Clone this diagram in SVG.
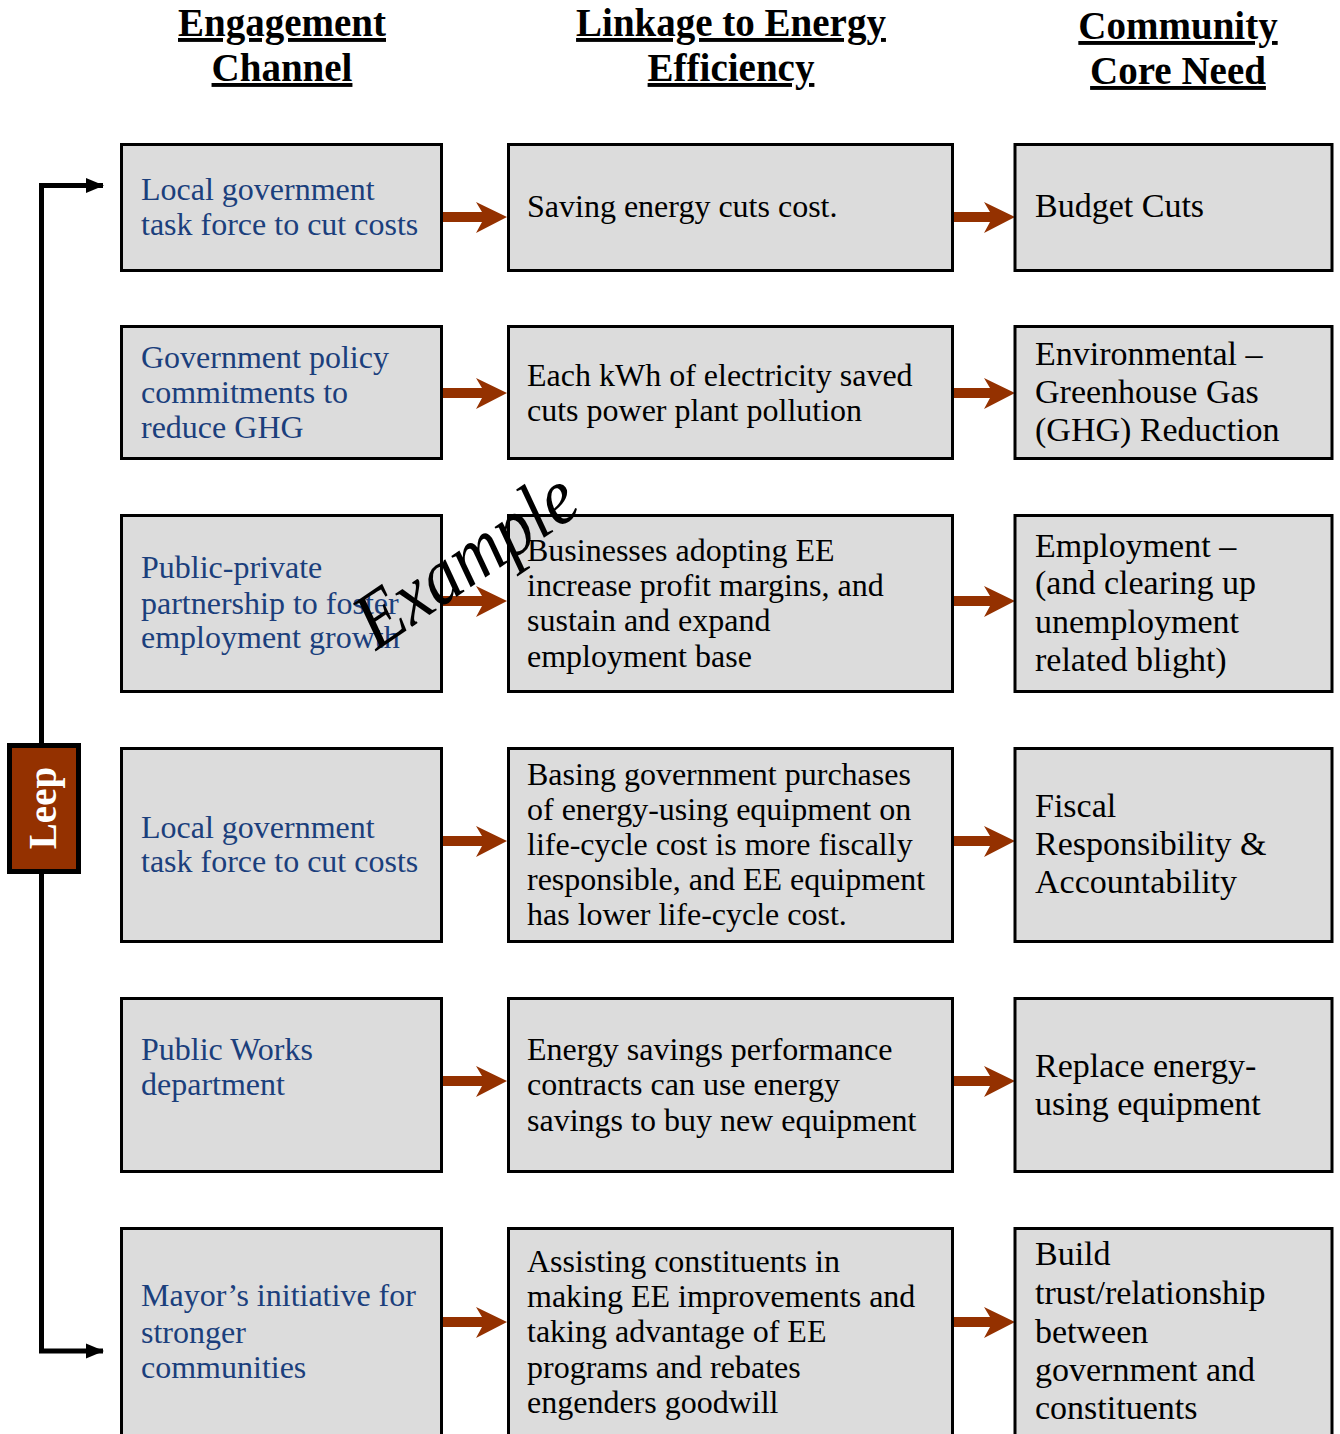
<svg xmlns="http://www.w3.org/2000/svg" width="1340" height="1434" viewBox="0 0 1340 1434">
<style>
.box{fill:#dcdcdc;stroke:#000;stroke-width:3}
.hd{font-family:"Liberation Serif",serif;font-weight:bold;font-size:39px;fill:#000;text-anchor:middle;text-decoration:underline}
.t1{font-family:"Liberation Serif",serif;font-size:32px;fill:#1b3f7c}
.t2{font-family:"Liberation Serif",serif;font-size:32px;fill:#000}
.t3{font-family:"Liberation Serif",serif;font-size:34px;fill:#000}
.arr{fill:#943100}
</style>
<defs>
<path id="a1" d="M0,-5 L40,-5 L34,-15 L65,0 L34,16 L40,5 L0,5 Z"/>
<path id="a2" d="M0,-5 L36,-5 L30,-15 L61,0 L30,16 L36,5 L0,5 Z"/>
</defs>
<rect width="1340" height="1434" fill="#fff"/>
<g id="headers">
<text class="hd" x="282" y="36">Engagement</text>
<text class="hd" x="282" y="81">Channel</text>
<text class="hd" x="731" y="36">Linkage to Energy</text>
<text class="hd" x="731" y="81">Efficiency</text>
<text class="hd" x="1178" y="39">Community</text>
<text class="hd" x="1178" y="84">Core Need</text>
</g>
<g id="connectors">
<path d="M103,185.5 L41.5,185.5 L41.5,1351 L103,1351" fill="none" stroke="#000" stroke-width="5" stroke-linejoin="miter"/>
<path d="M86,178 L104,185.5 L86,193 Z" fill="#000"/>
<path d="M86,1343.5 L104,1351 L86,1358.5 Z" fill="#000"/>
<use href="#a1" class="arr" x="442" y="217"/>
<use href="#a2" class="arr" x="954" y="217"/>
<use href="#a1" class="arr" x="442" y="393"/>
<use href="#a2" class="arr" x="954" y="393"/>
<use href="#a1" class="arr" x="442" y="601"/>
<use href="#a2" class="arr" x="954" y="601"/>
<use href="#a1" class="arr" x="442" y="841"/>
<use href="#a2" class="arr" x="954" y="841"/>
<use href="#a1" class="arr" x="442" y="1081"/>
<use href="#a2" class="arr" x="954" y="1081"/>
<use href="#a1" class="arr" x="442" y="1322"/>
<use href="#a2" class="arr" x="954" y="1322"/>
</g>
<g id="leep">
<rect x="9.5" y="745.5" width="69" height="126" fill="#943100" stroke="#000" stroke-width="5"/>
<text transform="translate(56,808) rotate(-90)" x="0" y="0" text-anchor="middle" font-family="Liberation Serif,serif" font-weight="bold" font-size="39" fill="#fff">Leep</text>
</g>
<g id="r1c1"><rect class="box" x="121.5" y="144.5" width="320" height="126"/>
<text class="t1" x="141" y="200">Local government</text>
<text class="t1" x="141" y="235">task force to cut costs</text></g>
<g id="r1c2"><rect class="box" x="508.5" y="144.5" width="444" height="126"/>
<text class="t2" x="527" y="217">Saving energy cuts cost.</text></g>
<g id="r1c3"><rect class="box" x="1015" y="144.5" width="317" height="126"/>
<text class="t3" x="1035" y="217">Budget Cuts</text></g>

<g id="r2c1"><rect class="box" x="121.5" y="326.5" width="320" height="132"/>
<text class="t1" x="141" y="368">Government policy</text>
<text class="t1" x="141" y="403">commitments to</text>
<text class="t1" x="141" y="438">reduce GHG</text></g>
<g id="r2c2"><rect class="box" x="508.5" y="326.5" width="444" height="132"/>
<text class="t2" x="527" y="386">Each kWh of electricity saved</text>
<text class="t2" x="527" y="421">cuts power plant pollution</text></g>
<g id="r2c3"><rect class="box" x="1015" y="326.5" width="317" height="132"/>
<text class="t3" x="1035" y="365">Environmental –</text>
<text class="t3" x="1035" y="403">Greenhouse Gas</text>
<text class="t3" x="1035" y="441">(GHG) Reduction</text></g>

<g id="r3c1"><rect class="box" x="121.5" y="515.5" width="320" height="176"/>
<text class="t1" x="141" y="578">Public-private</text>
<text class="t1" x="141" y="614">partnership to foster</text>
<text class="t1" x="141" y="648">employment growth</text></g>
<g id="r3c2"><rect class="box" x="508.5" y="515.5" width="444" height="176"/>
<text class="t2" x="527" y="561">Businesses adopting EE</text>
<text class="t2" x="527" y="596">increase profit margins, and</text>
<text class="t2" x="527" y="631">sustain and expand</text>
<text class="t2" x="527" y="667">employment base</text></g>
<g id="r3c3"><rect class="box" x="1015" y="515.5" width="317" height="176"/>
<text class="t3" x="1035" y="557">Employment –</text>
<text class="t3" x="1035" y="594">(and clearing up</text>
<text class="t3" x="1035" y="633">unemployment</text>
<text class="t3" x="1035" y="671">related blight)</text></g>

<g id="r4c1"><rect class="box" x="121.5" y="748.5" width="320" height="193"/>
<text class="t1" x="141" y="838">Local government</text>
<text class="t1" x="141" y="872">task force to cut costs</text></g>
<g id="r4c2"><rect class="box" x="508.5" y="748.5" width="444" height="193"/>
<text class="t2" x="527" y="785">Basing government purchases</text>
<text class="t2" x="527" y="820">of energy-using equipment on</text>
<text class="t2" x="527" y="855">life-cycle cost is more fiscally</text>
<text class="t2" x="527" y="890">responsible, and EE equipment</text>
<text class="t2" x="527" y="925">has lower life-cycle cost.</text></g>
<g id="r4c3"><rect class="box" x="1015" y="748.5" width="317" height="193"/>
<text class="t3" x="1035" y="817">Fiscal</text>
<text class="t3" x="1035" y="855">Responsibility &amp;</text>
<text class="t3" x="1035" y="893">Accountability</text></g>

<g id="r5c1"><rect class="box" x="121.5" y="998.5" width="320" height="173"/>
<text class="t1" x="141" y="1060">Public Works</text>
<text class="t1" x="141" y="1095">department</text></g>
<g id="r5c2"><rect class="box" x="508.5" y="998.5" width="444" height="173"/>
<text class="t2" x="527" y="1060">Energy savings performance</text>
<text class="t2" x="527" y="1095">contracts can use energy</text>
<text class="t2" x="527" y="1131">savings to buy new equipment</text></g>
<g id="r5c3"><rect class="box" x="1015" y="998.5" width="317" height="173"/>
<text class="t3" x="1035" y="1077">Replace energy-</text>
<text class="t3" x="1035" y="1115">using equipment</text></g>

<g id="r6c1"><rect class="box" x="121.5" y="1228.5" width="320" height="220"/>
<text class="t1" x="141" y="1306">Mayor’s initiative for</text>
<text class="t1" x="141" y="1343">stronger</text>
<text class="t1" x="141" y="1378">communities</text></g>
<g id="r6c2"><rect class="box" x="508.5" y="1228.5" width="444" height="220"/>
<text class="t2" x="527" y="1272">Assisting constituents in</text>
<text class="t2" x="527" y="1307">making EE improvements and</text>
<text class="t2" x="527" y="1342">taking advantage of EE</text>
<text class="t2" x="527" y="1378">programs and rebates</text>
<text class="t2" x="527" y="1413">engenders goodwill</text></g>
<g id="r6c3"><rect class="box" x="1015" y="1228.5" width="317" height="220"/>
<text class="t3" x="1035" y="1265">Build</text>
<text class="t3" x="1035" y="1304">trust/relationship</text>
<text class="t3" x="1035" y="1343">between</text>
<text class="t3" x="1035" y="1381">government and</text>
<text class="t3" x="1035" y="1419">constituents</text></g>

<g id="example">
<text transform="translate(480,581) rotate(-34)" x="0" y="0" text-anchor="middle" font-family="Liberation Serif,serif" font-style="italic" font-size="80" textLength="250" lengthAdjust="spacingAndGlyphs" fill="#000">Example</text>
</g>
</svg>
